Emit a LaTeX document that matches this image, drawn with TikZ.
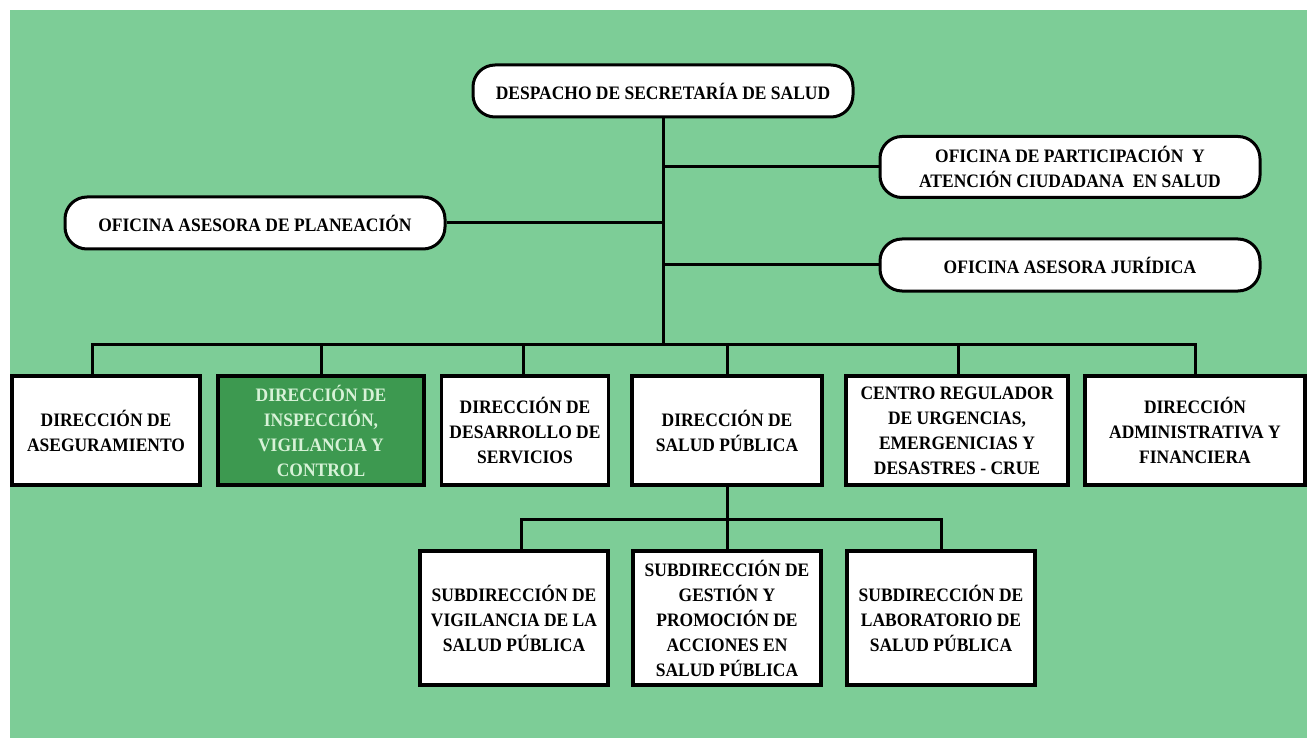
\documentclass[tikz,border=0pt]{standalone}
\usepackage{fontspec}
\setmainfont{Liberation Serif}[FakeStretch=0.92]
\definecolor{bggreen}{RGB}{125,205,151}
\definecolor{darkbox}{RGB}{61,153,80}
\definecolor{lighttext}{RGB}{215,242,215}
\begin{document}
\begin{tikzpicture}[x=1pt,y=-1pt,
  every node/.style={font=\fontsize{19}{25}\selectfont\bfseries, align=center, inner sep=0pt},
  pill/.style={draw=black, line width=3pt, fill=white, rounded corners=22pt},
  rbox/.style={draw=black, line width=3.2pt, fill=white},
  link/.style={draw=black, line width=3pt}]
\useasboundingbox (0,0) rectangle (1307,738);
\fill[white] (0,0) rectangle (1307,738);
\fill[bggreen] (10,10) rectangle (1307,738);

% bus coordinates
\coordinate (bus) at (663,344);
\coordinate (sbus) at (727,519);

% top level
\node[pill, minimum width=380pt, minimum height=52pt] (desp) at (663,91) {DESPACHO DE SECRETARÍA DE SALUD};
\node[pill, minimum width=380pt, minimum height=61pt] (part) at (1070,167) {OFICINA DE PARTICIPACIÓN\ \ Y\\ATENCIÓN CIUDADANA\ \ EN SALUD};
\node[pill, minimum width=380pt, minimum height=52pt] (plan) at (255,223) {OFICINA ASESORA DE PLANEACIÓN};
\node[pill, minimum width=380pt, minimum height=52pt] (jur) at (1070,265) {OFICINA ASESORA JURÍDICA};

% direcciones
\node[rbox, minimum width=188pt, minimum height=109pt] (aseg) at (106,430.5) {DIRECCIÓN DE\\ASEGURAMIENTO};
\node[rbox, fill=darkbox, text=lighttext, minimum width=206pt, minimum height=109pt] (insp) at (321,430.5) {DIRECCIÓN DE\\INSPECCIÓN,\\VIGILANCIA Y\\CONTROL};
\node[rbox, minimum width=167pt, minimum height=109pt] (desa) at (525,430.5) {DIRECCIÓN DE\\DESARROLLO DE\\SERVICIOS};
\node[rbox, minimum width=190pt, minimum height=109pt] (salud) at (727,430.5) {DIRECCIÓN DE\\SALUD PÚBLICA};
\node[rbox, minimum width=222pt, minimum height=109pt] (crue) at (957,430.5) {CENTRO REGULADOR\\DE URGENCIAS,\\EMERGENICIAS Y\\DESASTRES - CRUE};
\node[rbox, minimum width=220pt, minimum height=109pt] (admin) at (1195,430.5) {DIRECCIÓN\\ADMINISTRATIVA Y\\FINANCIERA};

% subdirecciones
\node[rbox, minimum width=188pt, minimum height=134pt] (vig) at (514,618) {SUBDIRECCIÓN DE\\VIGILANCIA DE LA\\SALUD PÚBLICA};
\node[rbox, minimum width=188pt, minimum height=134pt] (gest) at (727,618) {SUBDIRECCIÓN DE\\GESTIÓN Y\\PROMOCIÓN DE\\ACCIONES EN\\SALUD PÚBLICA};
\node[rbox, minimum width=188pt, minimum height=134pt] (lab) at (941,618) {SUBDIRECCIÓN DE\\LABORATORIO DE\\SALUD PÚBLICA};

% connectors
\draw[link] (desp.south) -- (bus);
\draw[link] (plan.east) -- (plan.east -| desp.south);
\draw[link] (part.west) -- (part.west -| desp.south);
\draw[link] (jur.west) -- (jur.west -| desp.south);
\draw[link] (aseg.north -| 92,0) |- (bus) -| (admin.north);
\draw[link] (insp.north) -- (insp.north |- bus);
\draw[link] (desa.north -| 523,0) -- (523,344);
\draw[link] (salud.north) -- (salud.north |- bus);
\draw[link] (crue.north -| 958,0) -- (958,344);
\draw[link] (salud.south) -- (sbus);
\draw[link] (vig.north -| 521,0) |- (sbus) -| (lab.north);
\draw[link] (gest.north) -- (sbus);
\end{tikzpicture}
\end{document}
